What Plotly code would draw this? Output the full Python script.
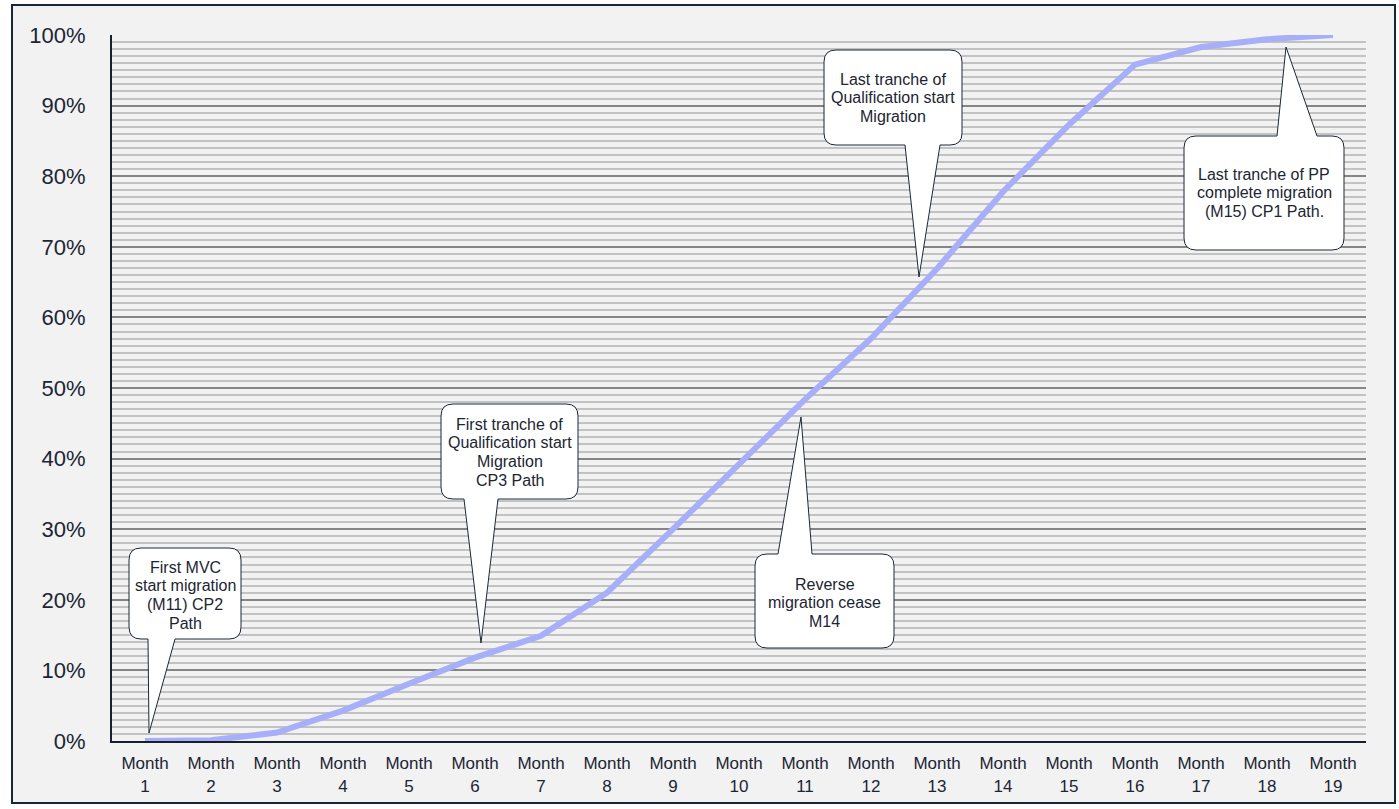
import plotly.graph_objects as go

# ---------------- data ----------------
months = list(range(1, 20))
month_labels = [f"Month<br>{m}" for m in months]
progress = [0.000, 0.001, 0.012, 0.043, 0.081, 0.118, 0.149, 0.210, 0.300,
            0.392, 0.484, 0.570, 0.669, 0.778, 0.873, 0.958, 0.983, 0.994, 1.000]
y_tickvals = [i / 10 for i in range(11)]
y_ticklabels = [f"{i*10}%" for i in range(11)]

callout_texts = [
    ["First MVC", "start migration", "(M11) CP2", "Path"],
    ["First tranche of", "Qualification start", "Migration", "CP3 Path"],
    ["Reverse", "migration cease", "M14"],
    ["Last tranche of", "Qualification start", "Migration"],
    ["Last tranche of PP", "complete migration", "(M15) CP1 Path."],
]

# ---------------- layout geometry (pixels) ----------------
W, H = 1399, 809
ML, MR, MT, MB = 112, 33, 35, 68
PW = W - ML - MR
PH = H - MT - MB
XMIN, XMAX = 0.5, 19.5


def xd(px):
    return XMIN + (px - ML) / PW * (XMAX - XMIN)


def yd(py):
    return (H - MB - py) / PH


def xp(px):
    return (px - ML) / PW


def yp(py):
    return (H - MB - py) / PH


# callout geometry: box (l, t, r, b), tail side, tail base x1, x2, tip (tx, ty), first text line y
callouts = [
    dict(box=(129, 548, 241, 639), side="bottom", base=(148, 175), tip=(149, 733), ty0=567),
    dict(box=(441, 404, 578, 499), side="bottom", base=(464, 498), tip=(481, 643), ty0=424),
    dict(box=(755, 554, 894, 648), side="top", base=(778, 812), tip=(801, 417), ty0=584),
    dict(box=(824, 50, 962, 145), side="bottom", base=(905, 940), tip=(919, 277), ty0=79),
    dict(box=(1184, 136, 1344, 250), side="top", base=(1277, 1317), tip=(1286, 47), ty0=174),
]
LINE_SP = 18.7
RR = 12


def P(x, y):
    return f"{xd(x):.5f},{yd(y):.5f}"


def callout_path(c):
    l, t, r, b = c["box"]
    x1, x2 = c["base"]
    tx, ty = c["tip"]
    s = f"M {P(l+RR, t)} "
    if c["side"] == "top":
        s += f"L {P(x1, t)} L {P(tx, ty)} L {P(x2, t)} "
    s += f"L {P(r-RR, t)} Q {P(r, t)} {P(r, t+RR)} "
    s += f"L {P(r, b-RR)} Q {P(r, b)} {P(r-RR, b)} "
    if c["side"] == "bottom":
        s += f"L {P(x2, b)} L {P(tx, ty)} L {P(x1, b)} "
    s += f"L {P(l+RR, b)} Q {P(l, b)} {P(l, b-RR)} "
    s += f"L {P(l, t+RR)} Q {P(l, t)} {P(l+RR, t)} Z"
    return s


fig = go.Figure()
fig.add_trace(go.Scatter(
    x=months, y=progress, mode="lines",
    line=dict(color="#a6aff7", width=6),
    hoverinfo="skip", showlegend=False,
))

shapes = [
    dict(type="rect", xref="paper", yref="paper", layer="below",
         x0=xp(12), x1=xp(1395), y0=yp(803), y1=yp(5),
         fillcolor="#f2f2f2", line=dict(color="#17273a", width=2)),
]
annotations = []
for c, lines in zip(callouts, callout_texts):
    shapes.append(dict(type="path", xref="x", yref="y", path=callout_path(c),
                       fillcolor="white", line=dict(color="#1c2838", width=1)))
    l, t, r, b = c["box"]
    cx = (l + r) / 2
    for i, line in enumerate(lines):
        annotations.append(dict(
            x=xd(cx), y=yd(c["ty0"] + i * LINE_SP), xref="x", yref="y",
            text=line, showarrow=False, xanchor="center", yanchor="middle",
            font=dict(family="Liberation Sans, Arial", size=16, color="#1c2533"),
        ))

fig.update_layout(
    width=W, height=H,
    margin=dict(l=ML, r=MR, t=MT, b=MB, pad=0),
    paper_bgcolor="white",
    plot_bgcolor="#f2f2f2",
    shapes=shapes,
    annotations=annotations,
    font=dict(family="Liberation Sans, Arial", color="#1c2533"),
    xaxis=dict(
        range=[XMIN, XMAX], tickmode="array", tickvals=months, ticktext=month_labels,
        showgrid=False, zeroline=False, showline=True, linecolor="#17202b", linewidth=2,
        ticks="", tickfont=dict(size=17, color="#1c2533"), ticklabelstandoff=6,
        fixedrange=True,
    ),
    yaxis=dict(
        range=[0, 1], tickmode="array", tickvals=y_tickvals, ticktext=y_ticklabels,
        showgrid=True, gridcolor="#858585", gridwidth=1.5,
        minor=dict(dtick=0.01, showgrid=True, gridcolor="#c2c2c2", gridwidth=2),
        zeroline=False, showline=True, linecolor="#17202b", linewidth=2,
        ticks="", tickfont=dict(size=22, color="#1c2533"), ticklabelstandoff=20,
        fixedrange=True,
    ),
)

fig.write_html("out.html")
